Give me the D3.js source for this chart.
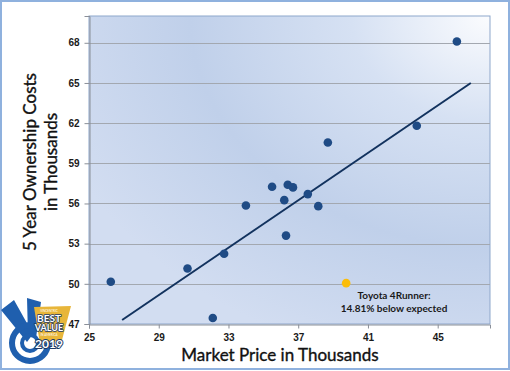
<!DOCTYPE html>
<html>
<head>
<meta charset="utf-8">
<script src="https://cdnjs.cloudflare.com/ajax/libs/d3/7.8.5/d3.min.js"></script>
<style>
  body { margin: 0; background: #fff; }
  svg { display: block; font-family: Lato, 'Open Sans', sans-serif; }
  .badge-text { paint-order: stroke; stroke-linejoin: round; }
</style>
</head>
<body>
<div id="chart"></div>
<script>
// vehicle data (thousands of dollars)
var priceK = [46.1, 43.8, 38.7, 35.5, 36.4, 36.7, 37.55, 36.2, 34.0, 38.15, 36.3, 32.75, 30.65, 26.25, 32.1];
var costK  = [68.1, 61.8, 60.55, 57.25, 57.4, 57.2, 56.7, 56.25, 55.85, 55.8, 53.6, 52.25, 51.15, 50.15, 47.45];

// highlighted vehicle
var hiPrice = [39.75];
var hiCost = [50.05];
var hiLabel = ['Toyota 4Runner:', '14.81% below expected'];

// trend line end points
var trendX = [26.9, 46.9];
var trendY = [47.3, 65.0];

var xTicks = [25, 29, 33, 37, 41, 45];
var yTicks = [47, 50, 53, 56, 59, 62, 65, 68];

var width = 510, height = 371;
var margin = { top: 16, right: 20, bottom: 47, left: 89 };

var svg = d3.select('#chart').append('svg')
  .attr('width', width)
  .attr('height', height);

// outer frame
svg.append('rect')
  .attr('x', 1).attr('y', 1)
  .attr('width', width - 2).attr('height', height - 3)
  .attr('fill', '#fff')
  .attr('stroke', '#8fb1de')
  .attr('stroke-width', 2);

var defs = svg.append('defs');
var grad = defs.append('radialGradient')
  .attr('id', 'bg')
  .attr('cx', '100%').attr('cy', '0%').attr('r', '115%');
grad.append('stop').attr('offset', '0').attr('stop-color', '#fbfcfe');
grad.append('stop').attr('offset', '0.3').attr('stop-color', '#d6e1f3');
grad.append('stop').attr('offset', '0.65').attr('stop-color', '#c0d0ea');
grad.append('stop').attr('offset', '1').attr('stop-color', '#d2ddf1');

var xScale = d3.scaleLinear().domain([25, 48]).range([margin.left, width - margin.right]);
var yScale = d3.scaleLinear().domain([47, 70]).range([height - margin.bottom, margin.top]);

// plot area
svg.append('rect')
  .attr('x', xScale(25)).attr('y', yScale(70))
  .attr('width', xScale(48) - xScale(25))
  .attr('height', yScale(47) - yScale(70))
  .attr('fill', 'url(#bg)')
  .attr('stroke', '#8ea7cb')
  .attr('stroke-width', 1);

// gridlines
svg.append('g').selectAll('line')
  .data(yTicks.slice(1))
  .enter().append('line')
  .attr('x1', xScale(25)).attr('x2', xScale(48))
  .attr('y1', function (d) { return Math.round(yScale(d)) + 0.5; })
  .attr('y2', function (d) { return Math.round(yScale(d)) + 0.5; })
  .attr('stroke', '#a3a8b0')
  .attr('stroke-width', 1);

// y axis
var yAxis = d3.axisLeft(yScale).tickValues(yTicks).tickSize(5).tickPadding(5);
var yAxisGroup = svg.append('g')
  .attr('transform', 'translate(' + (xScale(25) + 0.5) + ',0)')
  .call(yAxis);
yAxisGroup.select('.domain').attr('stroke', '#8a8f98');
yAxisGroup.selectAll('.tick line').attr('stroke', '#8a8f98');
yAxisGroup.selectAll('.tick text')
  .attr('fill', '#1a1a1a').style('font-size', '10px').style('font-weight', 'bold');

// x axis
var xAxis = d3.axisBottom(xScale).tickValues(xTicks).tickSize(4).tickPadding(5);
var xAxisGroup = svg.append('g')
  .attr('transform', 'translate(0,' + (yScale(47) + 0.5) + ')')
  .call(xAxis);
xAxisGroup.select('.domain').attr('stroke', '#8a8f98');
xAxisGroup.selectAll('.tick line').attr('stroke', '#8a8f98');
xAxisGroup.selectAll('.tick text')
  .attr('fill', '#1a1a1a').style('font-size', '10px').style('font-weight', 'bold');

// trend line
svg.append('line')
  .attr('x1', xScale(trendX[0])).attr('y1', yScale(trendY[0]))
  .attr('x2', xScale(trendX[1])).attr('y2', yScale(trendY[1]))
  .attr('stroke', '#12325e')
  .attr('stroke-width', 2);

// points
svg.append('g').selectAll('circle')
  .data(priceK)
  .enter().append('circle')
  .attr('cx', function (d) { return xScale(d); })
  .attr('cy', function (d, i) { return yScale(costK[i]); })
  .attr('r', 4.3)
  .attr('fill', '#1f4b85');

svg.append('g').selectAll('circle')
  .data(hiPrice)
  .enter().append('circle')
  .attr('cx', function (d) { return xScale(d); })
  .attr('cy', function (d, i) { return yScale(hiCost[i]); })
  .attr('r', 4.3)
  .attr('fill', '#fbbd0a');

// annotation
svg.append('g').selectAll('text')
  .data(hiLabel)
  .enter().append('text')
  .attr('x', 394)
  .attr('y', function (d, i) { return 299 + i * 12.5; })
  .attr('text-anchor', 'middle')
  .style('font-size', '10px')
  .style('font-weight', 'bold')
  .attr('fill', '#1a1a1a')
  .text(function (d) { return d; });

// axis titles
svg.append('text')
  .attr('x', 280).attr('y', 361)
  .attr('text-anchor', 'middle')
  .style('font-size', '17px')
  .attr('fill', '#111')
  .attr('stroke', '#111').attr('stroke-width', 0.35)
  .text('Market Price in Thousands');

var yTitle = svg.append('text')
  .attr('transform', 'translate(36,162) rotate(-90)')
  .attr('text-anchor', 'middle')
  .style('font-size', '17px')
  .attr('fill', '#111')
  .attr('stroke', '#111').attr('stroke-width', 0.35);
yTitle.append('tspan').attr('x', 0).attr('y', 0).text('5 Year Ownership Costs');
yTitle.append('tspan').attr('x', 0).attr('y', 21).text('in Thousands');

// badge
var badge = svg.append('g');
badge.append('path')
  .attr('d', 'M1,310 L14,300 L33,334 L27,342 Z M27,298 L41,302 L36,338 L28,336 Z')
  .attr('fill', '#1f5fae');
badge.append('circle').attr('cx', 30).attr('cy', 343).attr('r', 18)
  .attr('fill', 'none').attr('stroke', '#1f5fae').attr('stroke-width', 6);
badge.append('circle').attr('cx', 30).attr('cy', 343).attr('r', 8)
  .attr('fill', 'none').attr('stroke', '#1f5fae').attr('stroke-width', 4);
badge.append('path')
  .attr('d', 'M34,307 L71,306 L62,340 L40,344 Z')
  .attr('fill', '#e8b63a');
badge.append('text').attr('class', 'badge-text').attr('x', 49).attr('y', 312).attr('text-anchor', 'middle')
  .style('font-size', '3px').attr('fill', '#fff').text('VINCENTRIC');
badge.append('text').attr('class', 'badge-text').attr('x', 49).attr('y', 321.5).attr('text-anchor', 'middle')
  .style('font-size', '10px').style('font-weight', 'bold').attr('fill', '#fff')
  .attr('stroke', '#1d3a66').attr('stroke-width', 1.6).text('BEST');
badge.append('text').attr('class', 'badge-text').attr('x', 49).attr('y', 331).attr('text-anchor', 'middle')
  .style('font-size', '9px').style('font-weight', 'bold').attr('fill', '#fff')
  .attr('stroke', '#1d3a66').attr('stroke-width', 1.6).text('VALUE');
badge.append('text').attr('class', 'badge-text').attr('x', 49).attr('y', 336).attr('text-anchor', 'middle')
  .style('font-size', '3px').attr('fill', '#fff').text('IN AMERICA');
badge.append('text').attr('class', 'badge-text').attr('x', 49).attr('y', 348).attr('text-anchor', 'middle')
  .style('font-size', '12px').style('font-weight', 'bold').attr('fill', '#fff')
  .attr('stroke', '#1d3a66').attr('stroke-width', 2).text('2019');
</script>
</body>
</html>
